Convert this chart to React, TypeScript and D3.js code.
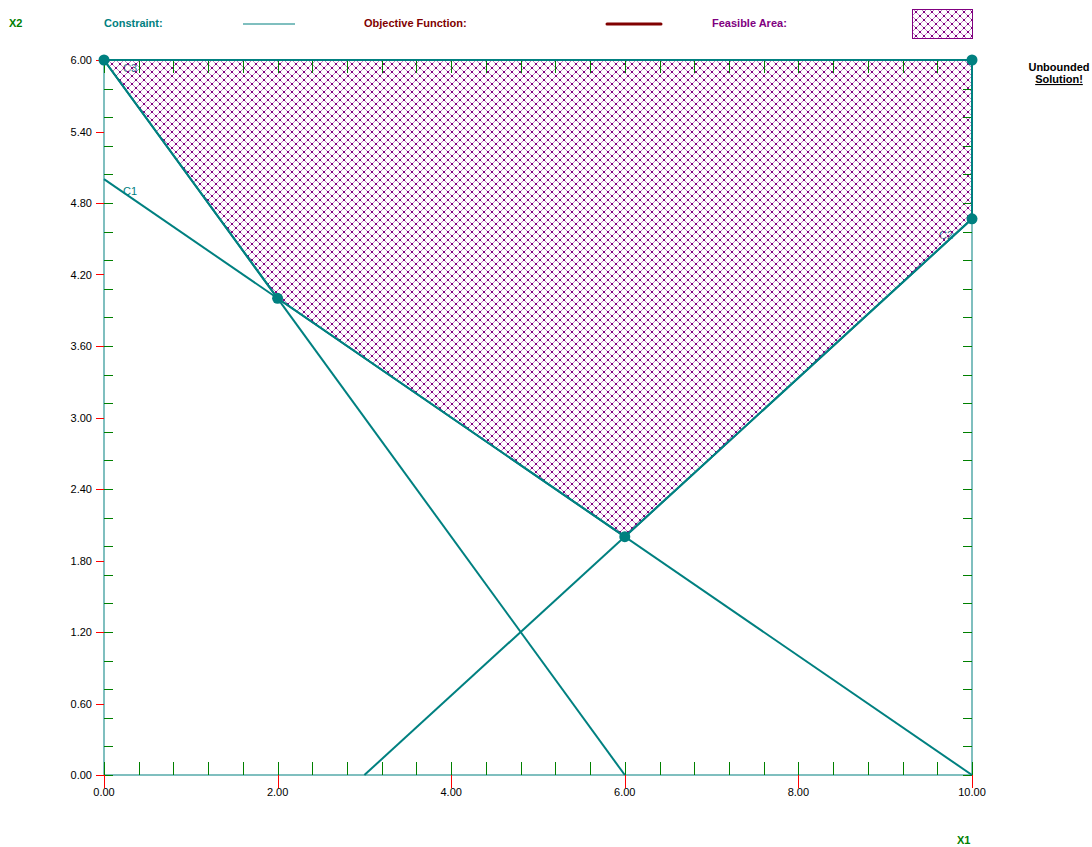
import React from "react";
import * as d3 from "d3";

// ---- data ----
const constraintNames = ["C1", "C2", "C3"];
// endpoints of each constraint line inside the plotting box (x1, x2)
const constraintStarts: [number, number][] = [[0, 5], [3, 0], [0, 6]];
const constraintEnds: [number, number][] = [[10, 0], [10, 4.667], [6, 0]];
// where the label of each constraint sits (data coords)
const constraintLabelAt: [number, number][] = [[0.22, 4.87], [9.62, 4.5], [0.22, 5.9]];
const feasibleVertices: [number, number][] = [[0, 6], [10, 6], [10, 4.667], [6, 2], [2, 4]];
const cornerPoints: [number, number][] = [[0, 6], [10, 6], [10, 4.667], [6, 2], [2, 4]];
const xTickValues = [0, 2, 4, 6, 8, 10];
const xTickLabels = ["0.00", "2.00", "4.00", "6.00", "8.00", "10.00"];
const yTickValues = [0, 0.6, 1.2, 1.8, 2.4, 3.0, 3.6, 4.2, 4.8, 5.4, 6.0];
const yTickLabels = ["0.00", "0.60", "1.20", "1.80", "2.40", "3.00", "3.60", "4.20", "4.80", "5.40", "6.00"];
const xMinorStep = 0.4;
const yMinorStep = 0.24;
const minorCount = 25;

const W = 1092;
const H = 847;
const TEAL = "#008080";
const AXIS = "#7fbfbf";
const GREEN = "#008000";
const RED = "#ff0000";
const PURPLE = "#800080";
const LIGHT_PURPLE = "#c383c3";
const MAROON = "#800000";
const FONT = "'Liberation Sans', Arial, sans-serif";

export default function App() {
  const x = d3.scaleLinear().domain([0, 10]).range([104, 972]);
  const y = d3.scaleLinear().domain([0, 6]).range([775, 60]);
  const xMinor = d3.range(minorCount + 1).map((i) => i * xMinorStep);
  const yMinor = d3.range(minorCount + 1).map((i) => i * yMinorStep);

  const area = d3.line<[number, number]>().x((d) => x(d[0])).y((d) => y(d[1]));
  const polyPath = area(feasibleVertices) + "Z";

  // 8x8 diagonal-cross hatch: dark at crossings, lighter in between
  const hatchPix = d3.range(8);
  const isCross = (i: number) => i === 0 || i === 3 || i === 4 || i === 7;

  const [x0, x1] = x.range();
  const [y0, y1] = y.range();

  return (
    <svg
      width={W}
      height={H}
      style={{ position: "absolute", left: 0, top: 0, display: "block", background: "#fff" }}
      fontFamily={FONT}
    >
      <defs>
        <pattern id="hatch" patternUnits="userSpaceOnUse" width={8} height={8}>
          {hatchPix.map((i) => (
            <g key={i}>
              <rect x={i} y={i} width={1} height={1} fill={isCross(i) ? PURPLE : LIGHT_PURPLE} />
              <rect x={7 - i} y={i} width={1} height={1} fill={isCross(i) ? PURPLE : LIGHT_PURPLE} />
            </g>
          ))}
        </pattern>
      </defs>

      {/* Legend */}
      <text x={9} y={27} fontSize={11} fontWeight="bold" fill={GREEN}>X2</text>
      <text x={104} y={27} fontSize={11} fontWeight="bold" fill={TEAL}>Constraint:</text>
      <line x1={243} x2={295} y1={24} y2={24} stroke={TEAL} strokeWidth={1.2} />
      <text x={364} y={27} fontSize={11} fontWeight="bold" fill={MAROON}>Objective Function:</text>
      <line x1={607} x2={661} y1={24} y2={24} stroke={MAROON} strokeWidth={3} strokeLinecap="round" />
      <text x={712} y={27} fontSize={11} fontWeight="bold" fill={PURPLE}>Feasible Area:</text>
      <rect x={912.5} y={9.5} width={60} height={29} fill="url(#hatch)" stroke={PURPLE} strokeWidth={1} />

      <text x={1059} y={71} fontSize={11} fontWeight="bold" fill="#000" textAnchor="middle">Unbounded</text>
      <text x={1059} y={83} fontSize={11} fontWeight="bold" fill="#000" textAnchor="middle" textDecoration="underline">Solution!</text>

      {/* constraint labels (under hatch) */}
      {constraintNames.map((n, i) => (
        <text key={n} x={x(constraintLabelAt[i][0])} y={y(constraintLabelAt[i][1])} fontSize={11} fill={i === 0 ? TEAL : "#1f6f86"}>
          {n}
        </text>
      ))}

      {/* feasible area */}
      <path d={polyPath} fill="url(#hatch)" stroke="none" />

      {/* frame */}
      <line x1={x0} x2={x0} y1={y0} y2={y1} stroke={AXIS} strokeWidth={2} />
      <line x1={x1} x2={x1} y1={y0} y2={y1} stroke={AXIS} strokeWidth={2} />
      <line x1={x0} x2={x1} y1={y0} y2={y0} stroke={AXIS} strokeWidth={2} />
      <line x1={x0} x2={x1} y1={y1} y2={y1} stroke={AXIS} strokeWidth={2} />

      {/* minor ticks (green) */}
      <g stroke={GREEN} strokeWidth={1} shapeRendering="crispEdges">
        {xMinor.map((v, i) => (
          <g key={"xm" + i}>
            <line x1={Math.round(x(v)) + 0.5} x2={Math.round(x(v)) + 0.5} y1={y0} y2={y0 - 13} />
            <line x1={Math.round(x(v)) + 0.5} x2={Math.round(x(v)) + 0.5} y1={y1} y2={y1 + 13} />
          </g>
        ))}
        {yMinor.map((v, i) => (
          <g key={"ym" + i}>
            <line x1={x0} x2={x0 + 9} y1={Math.round(y(v)) + 0.5} y2={Math.round(y(v)) + 0.5} />
            <line x1={x1} x2={x1 - 9} y1={Math.round(y(v)) + 0.5} y2={Math.round(y(v)) + 0.5} />
          </g>
        ))}
      </g>

      {/* major ticks (red) and labels */}
      <g shapeRendering="crispEdges" stroke={RED} strokeWidth={1}>
        {xTickValues.map((v, i) => (
          <line key={"xt" + i} x1={Math.round(x(v)) + 0.5} x2={Math.round(x(v)) + 0.5} y1={y0} y2={y0 + 13} />
        ))}
        {yTickValues.map((v, i) => (
          <line key={"yt" + i} x1={x0 - 8} x2={x0} y1={Math.round(y(v)) + 0.5} y2={Math.round(y(v)) + 0.5} />
        ))}
      </g>
      {xTickValues.map((v, i) => (
        <text key={"xl" + i} x={x(v)} y={796} fontSize={11} fill="#000" textAnchor="middle">
          {xTickLabels[i]}
        </text>
      ))}
      {yTickValues.map((v, i) => (
        <text key={"yl" + i} x={92} y={y(v) + 4} fontSize={11} fill="#000" textAnchor="end">
          {yTickLabels[i]}
        </text>
      ))}

      {/* constraint lines */}
      {constraintNames.map((n, i) => (
        <line
          key={"c" + n}
          x1={x(constraintStarts[i][0])}
          y1={y(constraintStarts[i][1])}
          x2={x(constraintEnds[i][0])}
          y2={y(constraintEnds[i][1])}
          stroke={TEAL}
          strokeWidth={2}
        />
      ))}

      {/* feasible boundary */}
      <path d={polyPath} fill="none" stroke={TEAL} strokeWidth={2} />

      {/* corner points */}
      {cornerPoints.map((p, i) => (
        <circle key={"p" + i} cx={x(p[0])} cy={y(p[1])} r={5.5} fill={TEAL} />
      ))}

      <text x={957} y={844} fontSize={11} fontWeight="bold" fill={GREEN}>X1</text>
    </svg>
  );
}
